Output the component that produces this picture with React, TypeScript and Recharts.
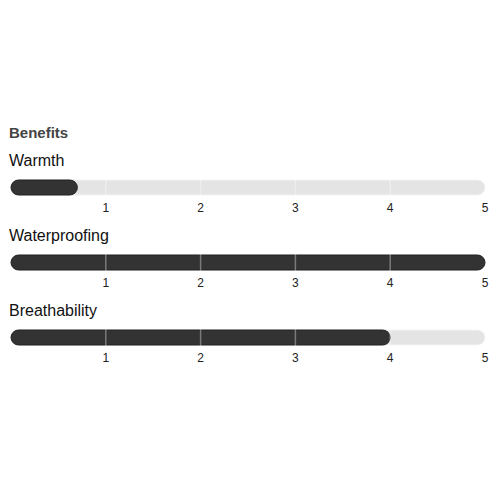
import { BarChart, Bar, XAxis, YAxis, ReferenceLine } from "recharts";

const benefits = ["Warmth", "Waterproofing", "Breathability"];
const ratings = [0.7, 5, 4];
const scaleTicks = [1, 2, 3, 4, 5];
const dividers = [1, 2, 3, 4];

const FONT = '"Liberation Sans", Arial, Helvetica, sans-serif';

function RatingBar({ name, value, top }: { name: string; value: number; top: number }) {
  const data = [{ name, value }];
  return (
    <>
      <div
        style={{
          position: "absolute",
          top,
          left: 1,
          fontSize: 16,
          lineHeight: "18px",
          color: "#111",
          fontFamily: FONT
        }}
      >
        {name}
      </div>
      <div style={{ position: "absolute", top: top + 27, left: 0 }}>
        <BarChart
          width={484}
          height={42}
          data={data}
          layout="vertical"
          margin={{ top: 0, right: 7, bottom: 0, left: 3 }}
        >
          <XAxis
            type="number"
            domain={[0, 5]}
            ticks={scaleTicks}
            axisLine={false}
            tickLine={false}
            tickMargin={1}
            height={25}
            tick={{ fontSize: 12, fill: "#222", fontFamily: FONT }}
          />
          <YAxis type="category" dataKey="name" hide />
          <Bar
            dataKey="value"
            barSize={15}
            fill="#333"
            stroke="#222"
            radius={7.5}
            background={{ fill: "#e4e4e4", stroke: "#f4f4f4", radius: 7.5 }}
            isAnimationActive={false}
          />
          {dividers.map(d => (
            <ReferenceLine
              key={d}
              x={d}
              stroke="#fff"
              strokeOpacity={0.35}
              strokeWidth={1.5}
              segment={[
                { x: d, y: name },
                { x: d, y: name }
              ]}
            />
          ))}
        </BarChart>
      </div>
    </>
  );
}

export default function App() {
  return (
    <div style={{ position: "relative", width: 484, height: 484 }}>
      <div
        style={{
          position: "absolute",
          top: 116,
          left: 1,
          fontSize: 15,
          lineHeight: "18px",
          fontWeight: "bold",
          color: "#444",
          fontFamily: FONT
        }}
      >
        Benefits
      </div>
      {benefits.map((b, i) => (
        <RatingBar key={b} name={b} value={ratings[i]} top={144 + i * 75} />
      ))}
    </div>
  );
}
